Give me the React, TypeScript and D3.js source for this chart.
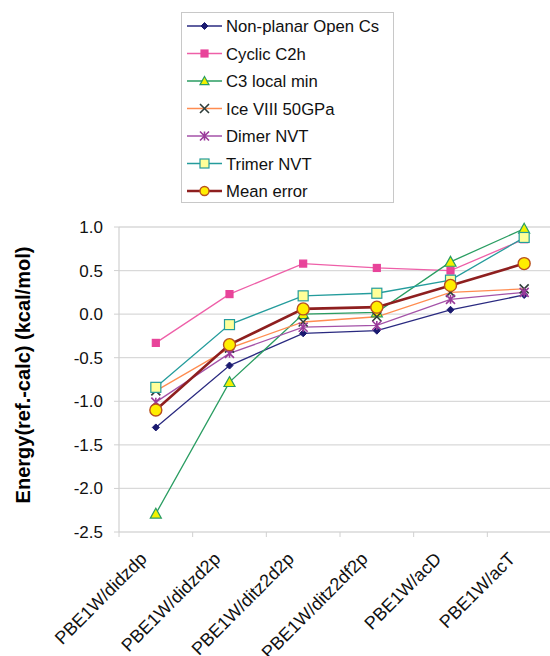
import React from "react";
import * as d3 from "d3";

const categories = [
  "PBE1W/didzdp",
  "PBE1W/didzd2p",
  "PBE1W/ditz2d2p",
  "PBE1W/ditz2df2p",
  "PBE1W/acD",
  "PBE1W/acT",
];

const nonPlanar = [-1.3, -0.59, -0.22, -0.19, 0.05, 0.22];
const cyclic = [-0.33, 0.23, 0.58, 0.53, 0.5, 0.86];
const c3Local = [-2.29, -0.78, 0.0, 0.02, 0.6, 0.98];
const iceVIII = [-0.88, -0.39, -0.09, -0.03, 0.25, 0.29];
const dimer = [-1.01, -0.45, -0.15, -0.13, 0.17, 0.25];
const trimer = [-0.84, -0.12, 0.21, 0.24, 0.39, 0.88];
const meanError = [-1.1, -0.35, 0.06, 0.08, 0.33, 0.58];

const yTicks = [1.0, 0.5, 0.0, -0.5, -1.0, -1.5, -2.0, -2.5];

type Series = {
  name: string;
  values: number[];
  line: string;
  width: number;
  marker: string;
  fill: string;
  stroke: string;
  size: number;
};

const series: Series[] = [
  { name: "Non-planar Open Cs", values: nonPlanar, line: "#2a2a80", width: 1.3, marker: "diamond", fill: "#1a1a70", stroke: "#1a1a70", size: 7 },
  { name: "Cyclic C2h", values: cyclic, line: "#ee5fa8", width: 1.3, marker: "square", fill: "#e8449a", stroke: "#e8449a", size: 7 },
  { name: "C3 local min", values: c3Local, line: "#2a9d62", width: 1.3, marker: "triangle", fill: "#f2f200", stroke: "#2a9d62", size: 11 },
  { name: "Ice VIII 50GPa", values: iceVIII, line: "#ff8c50", width: 1.3, marker: "x", fill: "none", stroke: "#2f3d3a", size: 9 },
  { name: "Dimer NVT", values: dimer, line: "#a452a8", width: 1.3, marker: "star", fill: "none", stroke: "#9a3a9a", size: 9 },
  { name: "Trimer NVT", values: trimer, line: "#249c9c", width: 1.3, marker: "square", fill: "#ffff99", stroke: "#249c9c", size: 10 },
  { name: "Mean error", values: meanError, line: "#8e1f1f", width: 2.6, marker: "circle", fill: "#ffee00", stroke: "#b8501e", size: 12 },
];

function Marker({ s, x, y }: { s: Series; x: number; y: number }) {
  const h = s.size / 2;
  if (s.marker === "diamond") {
    return <path d={`M${x},${y - h}L${x + h},${y}L${x},${y + h}L${x - h},${y}Z`} fill={s.fill} stroke={s.stroke} />;
  }
  if (s.marker === "square") {
    return <rect x={x - h} y={y - h} width={s.size} height={s.size} fill={s.fill} stroke={s.stroke} strokeWidth={1.2} />;
  }
  if (s.marker === "triangle") {
    return <path d={`M${x},${y - h}L${x + h},${y + h * 0.8}L${x - h},${y + h * 0.8}Z`} fill={s.fill} stroke={s.stroke} strokeWidth={1.2} />;
  }
  if (s.marker === "x") {
    return <path d={`M${x - h},${y - h}L${x + h},${y + h}M${x - h},${y + h}L${x + h},${y - h}`} stroke={s.stroke} strokeWidth={1.6} />;
  }
  if (s.marker === "star") {
    return (
      <path
        d={`M${x - h},${y - h}L${x + h},${y + h}M${x - h},${y + h}L${x + h},${y - h}M${x},${y - h}L${x},${y + h}`}
        stroke={s.stroke}
        strokeWidth={1.6}
      />
    );
  }
  return <circle cx={x} cy={y} r={h} fill={s.fill} stroke={s.stroke} strokeWidth={1.4} />;
}

export default function App() {
  const left = 119;
  const right = 561;
  const top = 227;
  const bottom = 532;

  const x = d3.scaleBand<string>().domain(categories).range([left, right]);
  const y = d3.scaleLinear().domain([-2.5, 1]).range([bottom, top]);
  const cx = (c: string) => (x(c) ?? 0) + x.bandwidth() / 2;

  const line = d3
    .line<number>()
    .x((_, i) => cx(categories[i]))
    .y((d) => y(d));

  const font = "Arial, 'Liberation Sans', Helvetica, sans-serif";

  return (
    <svg
      width={550}
      height={656}
      style={{ position: "absolute", left: 0, top: 0, background: "#fff" }}
      fontFamily={font}
    >
      {/* gridlines */}
      {yTicks.map((t) => (
        <line key={t} x1={left} x2={right} y1={y(t)} y2={y(t)} stroke="#d9d9d9" strokeWidth={1.3} />
      ))}
      {/* y axis */}
      <line x1={left} x2={left} y1={top} y2={bottom} stroke="#d0d0d0" strokeWidth={1.2} />
      {yTicks.map((t) => (
        <g key={"yt" + t}>
          <line x1={left - 5} x2={left} y1={y(t)} y2={y(t)} stroke="#d0d0d0" />
          <text x={left - 16} y={y(t)} dy="0.35em" textAnchor="end" fontSize={17} fill="#111">
            {d3.format(".1f")(t).replace("−", "-")}
          </text>
        </g>
      ))}
      {/* x axis ticks */}
      {categories.map((c) => (
        <line key={"xt" + c} x1={x(c)} x2={x(c)} y1={bottom} y2={bottom + 5} stroke="#d0d0d0" />
      ))}
      {categories.map((c) => (
        <text
          key={"xl" + c}
          transform={`translate(${cx(c) - 8},${bottom + 28}) rotate(-45)`}
          textAnchor="end"
          fontSize={18}
          fill="#111"
        >
          {c}
        </text>
      ))}
      {/* y title */}
      <text
        transform={`translate(30,375) rotate(-90)`}
        textAnchor="middle"
        fontSize={20}
        fontWeight="bold"
        fill="#000"
      >
        Energy(ref.-calc) (kcal/mol)
      </text>
      {/* series */}
      {series.map((s) => (
        <path key={"l" + s.name} d={line(s.values) ?? ""} fill="none" stroke={s.line} strokeWidth={s.width} />
      ))}
      {series.map((s) => (
        <g key={"m" + s.name}>
          {s.values.map((v, i) => (
            <Marker key={i} s={s} x={cx(categories[i])} y={y(v)} />
          ))}
        </g>
      ))}
      {/* legend */}
      <rect x={181.5} y={12.5} width={212} height={190} fill="#fff" stroke="#c8c8c8" />
      {series.map((s, i) => {
        const ly = 26 + i * 27.5;
        return (
          <g key={"lg" + s.name}>
            <line x1={187} x2={222} y1={ly} y2={ly} stroke={s.line} strokeWidth={s.width} />
            <Marker s={{ ...s, size: Math.min(s.size, 9) }} x={204.5} y={ly} />
            <text x={226} y={ly} dy="0.36em" fontSize={16.7} fill="#111">
              {s.name}
            </text>
          </g>
        );
      })}
    </svg>
  );
}
